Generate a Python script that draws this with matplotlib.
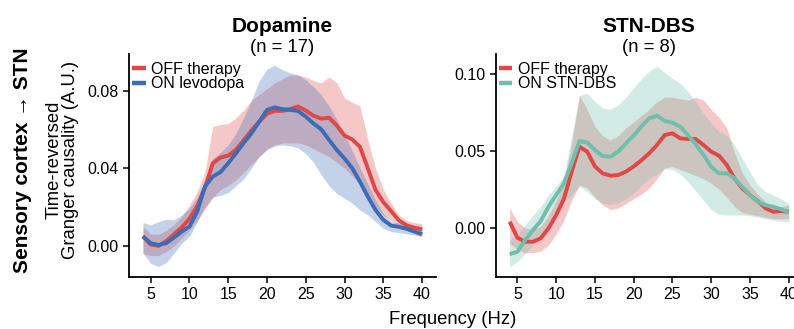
import numpy as np
import matplotlib
matplotlib.use("Agg")
import matplotlib.pyplot as plt

plt.rcParams['font.family'] = ['Liberation Sans', 'DejaVu Sans']

freq = [4, 5, 6, 7, 8, 9, 10, 11, 12, 13, 14, 15, 16, 17, 18, 19, 20, 21, 22,
        23, 24, 25, 26, 27, 28, 29, 30, 31, 32, 33, 34, 35, 36, 37, 38, 39, 40]

# ---- Dopamine panel ----
dopa_off_mean = [0.0050, 0.0007, 0.0000, 0.0025, 0.0060, 0.0095, 0.0140, 0.0205, 0.0300, 0.0425,
                 0.0455, 0.0465, 0.0495, 0.0545, 0.0595, 0.0640, 0.0680, 0.0695, 0.0695,
                 0.0705, 0.0718, 0.0697, 0.0670, 0.0655, 0.0660, 0.0620, 0.0568, 0.0548, 0.0510,
                 0.0400, 0.0288, 0.0226, 0.0180, 0.0132, 0.0106, 0.0094, 0.0085]
dopa_off_lo = [-0.0040, -0.0050, -0.0050, -0.0030, 0.0000, 0.0040, 0.0080, 0.0130, 0.0190, 0.0250,
               0.0290, 0.0310, 0.0340, 0.0380, 0.0420, 0.0460, 0.0500, 0.0520, 0.0530,
               0.0530, 0.0530, 0.0520, 0.0500, 0.0480, 0.0460, 0.0430, 0.0400, 0.0360, 0.0320,
               0.0270, 0.0200, 0.0160, 0.0130, 0.0100, 0.0080, 0.0070, 0.0060]
dopa_off_hi = [0.0100, 0.0060, 0.0060, 0.0080, 0.0110, 0.0150, 0.0210, 0.0280, 0.0380, 0.0615,
               0.0625, 0.0630, 0.0660, 0.0700, 0.0750, 0.0780, 0.0810, 0.0840, 0.0860,
               0.0880, 0.0880, 0.0870, 0.0850, 0.0840, 0.0870, 0.0840, 0.0760, 0.0740, 0.0720,
               0.0550, 0.0400, 0.0290, 0.0220, 0.0160, 0.0130, 0.0120, 0.0115]

dopa_on_mean = [0.0048, 0.0014, 0.0005, 0.0014, 0.0043, 0.0074, 0.0100, 0.0177, 0.0306, 0.0357,
                0.0380, 0.0426, 0.0477, 0.0530, 0.0580, 0.0640, 0.0700, 0.0713, 0.0704,
                0.0700, 0.0695, 0.0666, 0.0630, 0.0600, 0.0546, 0.0494, 0.0450, 0.0400, 0.0330,
                0.0254, 0.0185, 0.0134, 0.0105, 0.0098, 0.0088, 0.0074, 0.0060]
dopa_on_lo = [-0.0038, -0.0090, -0.0106, -0.0086, -0.0038, 0.0014, 0.0048, 0.0125, 0.0200, 0.0250,
              0.0260, 0.0275, 0.0310, 0.0345, 0.0400, 0.0460, 0.0494, 0.0515, 0.0520,
              0.0515, 0.0505, 0.0475, 0.0430, 0.0366, 0.0310, 0.0270, 0.0245, 0.0220, 0.0185,
              0.0160, 0.0125, 0.0090, 0.0074, 0.0069, 0.0062, 0.0057, 0.0048]
dopa_on_hi = [0.0120, 0.0108, 0.0125, 0.0137, 0.0134, 0.0160, 0.0194, 0.0250, 0.0340, 0.0450,
              0.0480, 0.0520, 0.0580, 0.0660, 0.0750, 0.0850, 0.0910, 0.0930, 0.0907,
              0.0890, 0.0880, 0.0855, 0.0820, 0.0778, 0.0720, 0.0650, 0.0570, 0.0490, 0.0400,
              0.0320, 0.0237, 0.0168, 0.0125, 0.0117, 0.0108, 0.0103, 0.0100]

# ---- STN-DBS panel ----
dbs_off_mean = [0.0041, -0.0063, -0.0089, -0.0089, -0.0067, -0.0002, 0.0084, 0.0190, 0.0366, 0.0528,
                0.0496, 0.0400, 0.0355, 0.0340, 0.0344, 0.0366, 0.0400, 0.0440, 0.0485,
                0.0539, 0.0604, 0.0615, 0.0582, 0.0578, 0.0578, 0.0539, 0.0496, 0.0470, 0.0410,
                0.0322, 0.0258, 0.0214, 0.0175, 0.0128, 0.0106, 0.0110, 0.0106]
dbs_off_lo = [-0.0100, -0.0140, -0.0160, -0.0160, -0.0150, -0.0110, -0.0040, 0.0050, 0.0180, 0.0280,
              0.0260, 0.0200, 0.0150, 0.0120, 0.0130, 0.0160, 0.0190, 0.0220, 0.0260,
              0.0320, 0.0390, 0.0400, 0.0380, 0.0360, 0.0340, 0.0320, 0.0290, 0.0250, 0.0200,
              0.0140, 0.0100, 0.0090, 0.0080, 0.0070, 0.0060, 0.0060, 0.0060]
dbs_off_hi = [0.0130, 0.0040, 0.0000, -0.0010, 0.0010, 0.0080, 0.0180, 0.0300, 0.0550, 0.0860,
              0.0770, 0.0660, 0.0600, 0.0570, 0.0600, 0.0650, 0.0690, 0.0730, 0.0770,
              0.0820, 0.0850, 0.0850, 0.0840, 0.0830, 0.0850, 0.0830, 0.0770, 0.0720, 0.0650,
              0.0490, 0.0360, 0.0280, 0.0220, 0.0170, 0.0140, 0.0140, 0.0150]

dbs_on_mean = [-0.0170, -0.0154, -0.0078, -0.0013, 0.0045, 0.0138, 0.0214, 0.0290, 0.0420, 0.0565,
               0.0556, 0.0506, 0.0467, 0.0463, 0.0496, 0.0550, 0.0600, 0.0660, 0.0712,
               0.0730, 0.0695, 0.0684, 0.0658, 0.0604, 0.0543, 0.0474, 0.0398, 0.0355, 0.0355,
               0.0322, 0.0268, 0.0214, 0.0171, 0.0149, 0.0138, 0.0123, 0.0102]
dbs_on_lo = [-0.0250, -0.0219, -0.0164, -0.0110, -0.0045, 0.0030, 0.0106, 0.0170, 0.0214, 0.0270,
             0.0236, 0.0190, 0.0160, 0.0155, 0.0165, 0.0190, 0.0225, 0.0280, 0.0320,
             0.0350, 0.0385, 0.0380, 0.0350, 0.0300, 0.0240, 0.0180, 0.0120, 0.0090, 0.0085,
             0.0085, 0.0085, 0.0080, 0.0070, 0.0060, 0.0050, 0.0045, 0.0040]
dbs_on_hi = [-0.0078, -0.0045, 0.0020, 0.0084, 0.0138, 0.0214, 0.0270, 0.0340, 0.0600, 0.0860,
             0.0875, 0.0820, 0.0780, 0.0770, 0.0800, 0.0850, 0.0910, 0.0970, 0.1020,
             0.1050, 0.1010, 0.0970, 0.0940, 0.0885, 0.0820, 0.0744, 0.0680, 0.0625, 0.0600,
             0.0540, 0.0450, 0.0366, 0.0280, 0.0236, 0.0214, 0.0190, 0.0160]

RED = '#E04848'
BLUE = '#3A6DB5'
TEAL = '#6FBFAC'

W, H = 794, 329
fig = plt.figure(figsize=(W / 100, H / 100), dpi=100)

ax1 = fig.add_axes([129 / W, 1 - 277 / H, 307 / W, 223 / H])
ax2 = fig.add_axes([495.7 / W, 1 - 277 / H, 307 / W, 223 / H])

def panel(ax, m1, lo1, hi1, c1, lab1, m2, lo2, hi2, c2, lab2):
    ax.fill_between(freq, lo1, hi1, color=c1, alpha=0.3, lw=0)
    ax.fill_between(freq, lo2, hi2, color=c2, alpha=0.3, lw=0)
    ax.plot(freq, m1, color=c1, lw=2.8, solid_capstyle='butt', solid_joinstyle='round', label=lab1)
    ax.plot(freq, m2, color=c2, lw=2.8, solid_capstyle='butt', solid_joinstyle='round', label=lab2)
    ax.set_xlim(2.2, 41.8)
    ax.set_xticks([5, 10, 15, 20, 25, 30, 35, 40])
    for s in ['top', 'right']:
        ax.spines[s].set_visible(False)
    for s in ['left', 'bottom']:
        ax.spines[s].set_linewidth(1.3)
        ax.spines[s].set_color('black')
    ax.tick_params(axis='both', direction='out', length=4, width=1.1, color='black',
                   labelsize=11.5, labelcolor='black', pad=3.5)
    leg = ax.legend(loc='upper left', bbox_to_anchor=(0.0, 0.98), frameon=False,
                    fontsize=11.5, handlelength=0.85, handletextpad=0.35,
                    labelspacing=-0.02, borderpad=0.0, borderaxespad=0.2)
    for h in leg.legend_handles:
        h.set_linewidth(3.2)

panel(ax1, dopa_off_mean, dopa_off_lo, dopa_off_hi, RED, 'OFF therapy',
      dopa_on_mean, dopa_on_lo, dopa_on_hi, BLUE, 'ON levodopa')
panel(ax2, dbs_off_mean, dbs_off_lo, dbs_off_hi, RED, 'OFF therapy',
      dbs_on_mean, dbs_on_lo, dbs_on_hi, TEAL, 'ON STN-DBS')

ax1.set_ylim(-0.016, 0.0988)
ax1.set_yticks([0.00, 0.04, 0.08])
ax1.set_yticklabels(['0.00', '0.04', '0.08'])
ax2.set_ylim(-0.0318, 0.113)
ax2.set_yticks([0.00, 0.05, 0.10])
ax2.set_yticklabels(['0.00', '0.05', '0.10'])

# Titles
c1 = (129 + 436) / 2 / W
c2 = (495.7 + 802.7) / 2 / W
fig.text(c1, 1 - 27 / H, 'Dopamine', ha='center', va='center', fontsize=15, fontweight='bold')
fig.text(c1, 1 - 47 / H, '(n = 17)', ha='center', va='center', fontsize=13.3)
fig.text(c2, 1 - 27 / H, 'STN-DBS', ha='center', va='center', fontsize=15, fontweight='bold')
fig.text(c2, 1 - 47 / H, '(n = 8)', ha='center', va='center', fontsize=13.3)

# Axis labels
fig.text(453 / W, 1 - 320 / H, 'Frequency (Hz)', ha='center', va='center', fontsize=13.3)
fig.text(62.5 / W, 1 - 160 / H, 'Time-reversed\nGranger causality (A.U.)', ha='center', va='center',
         rotation=90, fontsize=13.3, linespacing=1.0)
fig.text(22.7 / W, 1 - 160 / H, 'Sensory cortex \u2192 STN', ha='center', va='center',
         rotation=90, fontsize=15, fontweight='bold')

fig.savefig('out.png', dpi=100)
